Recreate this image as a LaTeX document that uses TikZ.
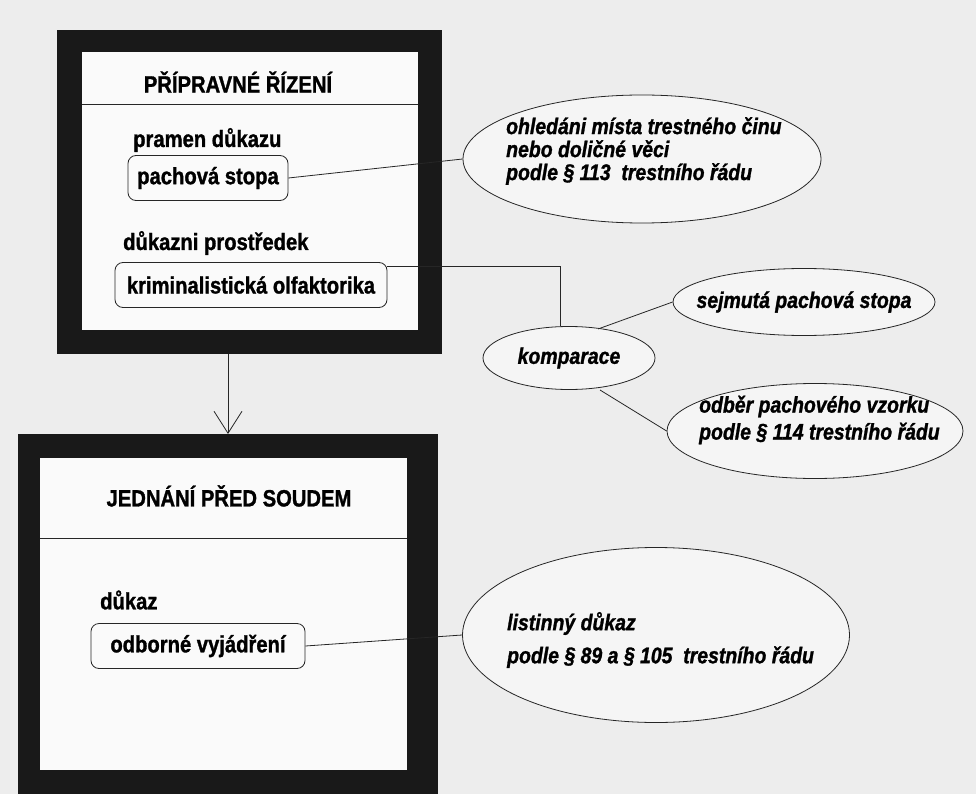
\documentclass[tikz,border=0pt]{standalone}
\usepackage{fontspec}
\setmainfont{Liberation Sans}
\newfontfamily\lblfont[FakeStretch=0.86,FakeBold=1.2]{Liberation Sans}
\usetikzlibrary{shapes.geometric,arrows.meta}
\begin{document}
\begin{tikzpicture}[x=1pt,y=-1pt,
  txt/.style={font=\lblfont\fontsize{23.5}{27}\selectfont\bfseries, inner sep=0pt},
  itxt/.style={font=\lblfont\fontsize{22.6}{27}\selectfont\bfseries\itshape, inner sep=0pt, align=left},
  rbox/.style={draw=black!85, line width=0.8pt, rounded corners=8pt, fill=white!98!black, minimum height=45pt, inner xsep=10pt, txt},
  ell/.style={ellipse, draw=black!85, line width=0.8pt, fill=white!96!black, inner sep=0pt},
  conn/.style={draw=black!85, line width=0.8pt},
  frame/.style={fill=black!90, draw=none},
  inner/.style={fill=white!98!black, draw=none}
]
\useasboundingbox (0,0) rectangle (976,794);
\fill[black!7] (0,0) rectangle (976,794);

% box 1
\fill[frame] (57,30) rectangle (442,354);
\fill[inner] (82,52) rectangle (418,330);
\node[txt] (t1) at (238,82) {PŘÍPRAVNÉ ŘÍZENÍ};
\draw[conn] (82,104) -- (418,104);
\node[txt, anchor=west] (pd) at (133,140) {pramen důkazu};
\node[rbox, minimum width=160pt] (ps) at (208,178) {pachová stopa};
\node[txt, anchor=west] (dp) at (123,243) {důkazni prostředek};
\node[rbox, minimum width=272pt] (ko) at (251,285) {kriminalistická olfaktorika};

% box 2
\fill[frame] (18,434) rectangle (438,800);
\fill[inner] (40,458) rectangle (407,770);
\node[txt] (t2) at (229,496) {JEDNÁNÍ PŘED SOUDEM};
\draw[conn] (40,538) -- (407,538);
\node[txt, anchor=west] (dk) at (100,600) {důkaz};
\node[rbox, minimum width=214pt] (ov) at (198,646) {odborné vyjádření};

% ellipses
\node[ell, minimum width=358pt, minimum height=128pt] (e1) at (642,159) {};
\node[itxt, anchor=west] (e1t) at (506,151) {ohledáni místa trestného činu\\[-4pt]nebo doličné věci\\[-4pt]podle § 113~~trestního řádu};
\node[ell, minimum width=172pt, minimum height=63pt] (kp) at (569,358) {};
\node[itxt] (kpt) at (569,358) {komparace};
\node[ell, minimum width=262pt, minimum height=67pt] (sp) at (804,302) {};
\node[itxt] (spt) at (804,302) {sejmutá pachová stopa};
\node[ell, minimum width=296pt, minimum height=95pt] (ob) at (815,431) {};
\node[itxt, anchor=west] (obt) at (699,420) {odběr pachového vzorku\\[0pt]podle § 114 trestního řádu};
\node[ell, minimum width=387pt, minimum height=175pt] (ld) at (656,635) {};
\node[itxt, anchor=west] (ldt) at (507,640) {listinný důkaz\\[6pt]podle § 89 a § 105~~trestního řádu};

% connectors
\draw[conn] (ps.east) -- (e1.west);
\coordinate (bend) at (560,266);
\draw[conn] (ko.east |- bend) -- (bend) -- (bend |- kp.north);
\coordinate (k1) at (598,329);
\draw[conn] (k1) -- (sp.west);
\coordinate (k2) at (600,390);
\draw[conn] (k2) -- (ob.west);
\draw[conn] (ov.east) -- (ld.west);
\coordinate (a1) at (228,354);
\coordinate (a2) at (228,434);
\draw[conn, -{Straight Barb[length=22pt,width=28pt,line width=0.8pt]}] (a1) -- (a2);
\end{tikzpicture}
\end{document}
